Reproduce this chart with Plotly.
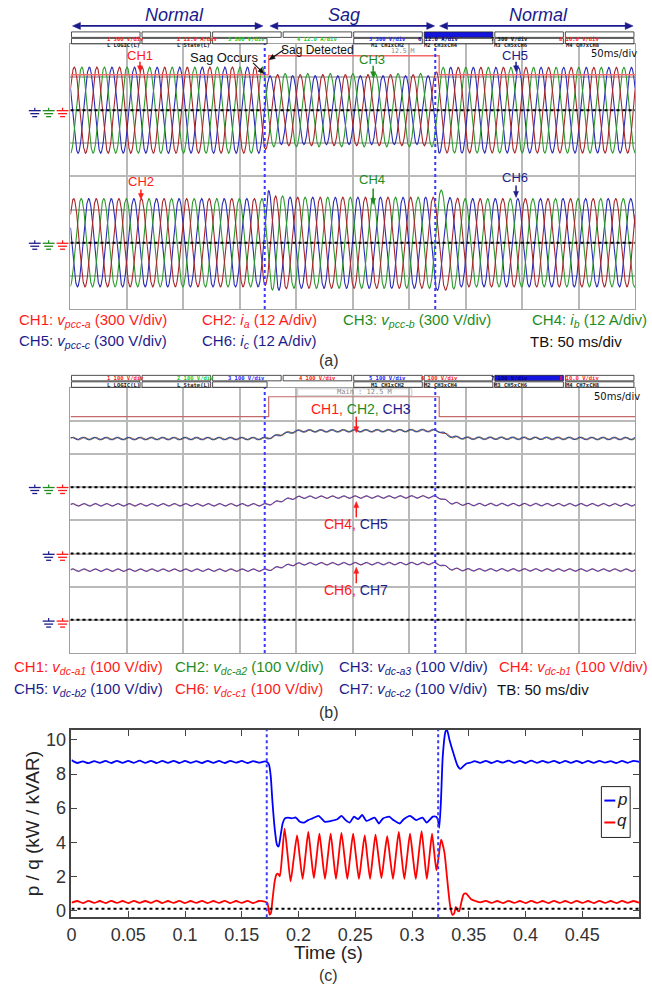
import numpy as np
import plotly.graph_objects as go

W, H = 652, 988
FONT = "Liberation Sans, Arial, sans-serif"
MONO = "DejaVu Sans Mono, monospace"

# ----------------------------- data -----------------------------
FREQ_HZ = 50.0          # grid frequency
SAG_START, SAG_END = 0.172, 0.323   # s
TIME_SPAN = 0.5         # 10 div x 50 ms

# (a) PCC voltages: peak envelope (V), 300 V/div
VPCC_T = [0.0, 0.1715, 0.1745, 0.3225, 0.3255, 0.5]
VPCC_A_PK = [390, 390, 322, 322, 388, 388]
VPCC_B_PK = [390, 390, 332, 332, 388, 388]
VPCC_C_PK = [390, 390, 312, 312, 388, 388]
VPCC_PHASE_DEG = [30, -90, 150]
V_PER_DIV_A = 300

# (a) load currents: peak envelope (A), 12 A/div
I_T = [0.0, 0.1715, 0.1735, 0.180, 0.195, 0.3225, 0.3255, 0.333, 0.345, 0.5]
IA_PK = [16.0, 16.0, 15.0, 17.0, 16.5, 16.5, 18.5, 17.0, 16.0, 16.0]
IB_PK = [16.0, 16.0, 15.5, 17.5, 16.5, 16.5, 20.0, 17.5, 16.0, 16.0]
IC_PK = [16.0, 16.0, 19.5, 17.5, 16.5, 16.5, 17.5, 16.5, 16.0, 16.0]
I_PHASE_DEG = [40, -80, 160]
I_SHIFT_T = [0.0, 0.172, 0.186, 0.323, 0.336, 0.5]
I_SHIFT_DEG = [0, 0, 30, 30, 0, 0]
A_PER_DIV = 12

# scope ground levels (div)
GROUND_A = [2, -2]
GROUND_B = [1, -1, -3]

# sag-detect logic trace (div)
LOGIC_T = [0.0, 0.1755, 0.3265, 0.5]
LOGIC_A = [3.07, 3.64, 3.07, 3.07]
LOGIC_B = [3.13, 3.73, 3.13, 3.13]

# (b) dc-link voltages (V), 100 V/div
VDC_T = [0.0, 0.172, 0.178, 0.186, 0.195, 0.203, 0.323, 0.327, 0.332, 0.338, 0.35, 0.5]
VDC_GROUP1 = [147, 147, 151, 159, 166, 170, 171, 169, 160, 152, 148, 147]
VDC_GROUP2 = [147, 147, 151, 159, 166, 170, 171, 169, 160, 152, 148, 147]
VDC_GROUP3 = [150, 150, 153, 160, 166, 169, 170, 168, 160, 153, 151, 150]
RIPPLE_V = 4.0
RIPPLE_HZ = 100.0
V_PER_DIV_B = 100

# (c) p and q (kW / kVAR)
P_T = [0.000, 0.005, 0.010, 0.015, 0.020, 0.025, 0.030, 0.035, 0.040, 0.045,
       0.050, 0.055, 0.060, 0.065, 0.070, 0.075, 0.080, 0.085, 0.090, 0.095,
       0.100, 0.105, 0.110, 0.115, 0.120, 0.125, 0.130, 0.135, 0.140, 0.145,
       0.150, 0.155, 0.160, 0.165, 0.170,
       0.1725, 0.1740, 0.1755, 0.1770, 0.1790, 0.1810, 0.1825, 0.1840, 0.1860, 0.1880, 0.1905,
       0.1939, 0.1976, 0.2012, 0.2049, 0.2085, 0.2122, 0.2177, 0.2232, 0.2287, 0.2342, 0.2378,
       0.2415, 0.2451, 0.2488, 0.2525, 0.2561, 0.2598, 0.2634, 0.2671, 0.2708, 0.2744, 0.2799,
       0.2836, 0.2891, 0.2927, 0.2982, 0.3037, 0.3092, 0.3128, 0.3183, 0.3213,
       0.3228, 0.3240, 0.3255, 0.3270, 0.3295, 0.3308, 0.3330, 0.3370, 0.3400, 0.3425,
       0.3450, 0.3480, 0.3520,
       0.355, 0.360, 0.365, 0.370, 0.375, 0.380, 0.385, 0.390, 0.395, 0.400,
       0.405, 0.410, 0.415, 0.420, 0.425, 0.430, 0.435, 0.440, 0.445, 0.450,
       0.455, 0.460, 0.465, 0.470, 0.475, 0.480, 0.485, 0.490, 0.495, 0.500]
P_VAL = [8.82, 8.65, 8.74, 8.64, 8.76, 8.66, 8.77, 8.65, 8.78, 8.66,
         8.77, 8.66, 8.79, 8.66, 8.78, 8.65, 8.77, 8.66, 8.78, 8.65,
         8.77, 8.66, 8.76, 8.65, 8.78, 8.66, 8.77, 8.65, 8.78, 8.67,
         8.77, 8.65, 8.76, 8.67, 8.74,
         8.70, 8.55, 7.90, 6.40, 4.80, 3.85, 3.75, 4.30, 5.10, 5.40, 5.45,
         5.40, 5.45, 5.20, 5.15, 5.30, 5.40, 5.55, 5.20, 5.25, 5.35, 5.55,
         5.30, 5.15, 5.50, 5.35, 5.60, 5.25, 5.35, 5.45, 5.10, 5.40, 5.50,
         5.30, 5.10, 5.35, 5.55, 5.30, 5.45, 5.15, 5.50, 5.50,
         5.30, 4.85, 6.50, 9.00, 10.50, 10.60, 10.00, 9.10, 8.50, 8.30,
         8.45, 8.62, 8.68,
         8.76, 8.66, 8.78, 8.65, 8.77, 8.67, 8.79, 8.66, 8.78, 8.65,
         8.79, 8.66, 8.77, 8.67, 8.78, 8.65, 8.77, 8.66, 8.78, 8.65,
         8.77, 8.66, 8.78, 8.67, 8.76, 8.65, 8.77, 8.66, 8.78, 8.72]

Q_T = [0.000, 0.005, 0.010, 0.015, 0.020, 0.025, 0.030, 0.035, 0.040, 0.045,
       0.050, 0.055, 0.060, 0.065, 0.070, 0.075, 0.080, 0.085, 0.090, 0.095,
       0.100, 0.105, 0.110, 0.115, 0.120, 0.125, 0.130, 0.135, 0.140, 0.145,
       0.150, 0.155, 0.160, 0.165, 0.170,
       0.1725, 0.1735, 0.1745, 0.1757, 0.1770, 0.1790, 0.1805, 0.1820, 0.1835, 0.1855,
       0.1877, 0.1904, 0.1930, 0.1958, 0.1987, 0.2011, 0.2036, 0.2061, 0.2086, 0.2110,
       0.2135, 0.2160, 0.2184, 0.2208, 0.2233, 0.2258, 0.2283, 0.2306, 0.2330, 0.2354,
       0.2378, 0.2404, 0.2430, 0.2455, 0.2481, 0.2506, 0.2532, 0.2557, 0.2583, 0.2606,
       0.2630, 0.2654, 0.2678, 0.2704, 0.2730, 0.2755, 0.2781, 0.2806, 0.2832, 0.2857,
       0.2883, 0.2907, 0.2932, 0.2957, 0.2982, 0.3007, 0.3033, 0.3058, 0.3084, 0.3107,
       0.3130, 0.3153, 0.3176, 0.3195, 0.3215, 0.3236, 0.3256,
       0.3285, 0.3310, 0.3335, 0.3355, 0.3370, 0.3385, 0.3400, 0.3415, 0.3435, 0.3455,
       0.3475, 0.3495, 0.3520, 0.3560,
       0.360, 0.365, 0.370, 0.375, 0.380, 0.385, 0.390, 0.395, 0.400,
       0.405, 0.410, 0.415, 0.420, 0.425, 0.430, 0.435, 0.440, 0.445, 0.450,
       0.455, 0.460, 0.465, 0.470, 0.475, 0.480, 0.485, 0.490, 0.495, 0.500]
Q_VAL = [0.45, 0.55, 0.43, 0.56, 0.44, 0.55, 0.43, 0.56, 0.44, 0.55,
         0.43, 0.56, 0.44, 0.55, 0.44, 0.57, 0.43, 0.55, 0.44, 0.56,
         0.43, 0.55, 0.44, 0.56, 0.43, 0.55, 0.44, 0.56, 0.43, 0.55,
         0.44, 0.56, 0.43, 0.55, 0.52,
         0.45, 0.15, -0.25, -0.15, 0.60, 1.70, 2.10, 2.15, 2.00, 3.20,
         4.80, 3.25, 1.70, 3.05, 4.40, 3.12, 1.85, 3.22, 4.60, 3.25,
         1.90, 3.20, 4.50, 3.17, 1.85, 3.17, 4.50, 3.17, 1.85, 3.20,
         4.55, 3.20, 1.85, 3.17, 4.50, 3.17, 1.85, 3.12, 4.40, 3.12,
         1.85, 3.15, 4.45, 3.17, 1.90, 3.12, 4.35, 3.10, 1.85, 3.22,
         4.60, 3.22, 1.85, 3.17, 4.50, 3.17, 1.85, 3.25, 4.65, 3.25,
         1.85, 3.17, 4.50, 3.40, 2.35, 3.25, 4.15,
         3.40, 1.80, 0.30, -0.25, -0.20, 0.20, 0.00, -0.05, 0.50, 0.95,
         1.00, 0.85, 0.65, 0.55,
         0.47, 0.56, 0.44, 0.55, 0.43, 0.56, 0.44, 0.55, 0.43,
         0.56, 0.44, 0.55, 0.43, 0.56, 0.44, 0.55, 0.43, 0.56, 0.44,
         0.55, 0.43, 0.56, 0.44, 0.55, 0.43, 0.56, 0.44, 0.55, 0.45]
ZERO_REF = 0.1
X_TICKS_C = [0, 0.05, 0.1, 0.15, 0.2, 0.25, 0.3, 0.35, 0.4, 0.45]
Y_TICKS_C = [0, 2, 4, 6, 8, 10]

# ----------------------------- style -----------------------------
RED, GREEN, NAVY = "#ff1a1a", "#1e8c1e", "#1c1c8a"
WRED, WGREEN, WBLUE = "#a8262a", "#2c9a2c", "#2a2ab4"
GRID = "#b9b9b9"
HDR = "#1a1a8c"

def X(x): return x / W
def Y(y): return 1 - y / H

fig = go.Figure()
t = np.linspace(0, TIME_SPAN, 5001)
env = lambda tk, vk: np.interp(t, tk, vk)

# ---- (a) voltages and currents
for pk, ph, col in zip([VPCC_C_PK, VPCC_B_PK, VPCC_A_PK], VPCC_PHASE_DEG[::-1], [WBLUE, WGREEN, WRED]):
    y = GROUND_A[0] + env(VPCC_T, pk) * np.sin(2 * np.pi * FREQ_HZ * t + np.deg2rad(ph)) / V_PER_DIV_A
    fig.add_trace(go.Scatter(x=t, y=y, mode="lines", line=dict(color=col, width=1.1),
                             xaxis="x", yaxis="y", hoverinfo="skip", showlegend=False))
shift = np.deg2rad(env(I_SHIFT_T, I_SHIFT_DEG))
for pk, ph, col in zip([IC_PK, IB_PK, IA_PK], I_PHASE_DEG[::-1], [WBLUE, WGREEN, WRED]):
    y = GROUND_A[1] + env(I_T, pk) * np.sin(2 * np.pi * FREQ_HZ * t + np.deg2rad(ph) + shift) / A_PER_DIV
    fig.add_trace(go.Scatter(x=t, y=y, mode="lines", line=dict(color=col, width=1.1),
                             xaxis="x", yaxis="y", hoverinfo="skip", showlegend=False))
fig.add_trace(go.Scatter(x=LOGIC_T, y=LOGIC_A, mode="lines", line=dict(color="#f26a6a", width=1.4, shape="hv"),
                         xaxis="x", yaxis="y", hoverinfo="skip", showlegend=False))

# ---- (b) dc-link voltages
groups = [(GROUND_B[0], VDC_GROUP1, [WRED, WGREEN, WBLUE]),
          (GROUND_B[1], VDC_GROUP2, [WRED, WBLUE]),
          (GROUND_B[2], VDC_GROUP3, [WRED, WBLUE])]
for g, lev, cols in groups:
    for k, col in enumerate(cols):
        v = env(VDC_T, lev) + RIPPLE_V * np.sin(2 * np.pi * RIPPLE_HZ * t + k * 0.6)
        fig.add_trace(go.Scatter(x=t, y=g + v / V_PER_DIV_B, mode="lines", line=dict(color=col, width=1.0),
                                 opacity=0.8, xaxis="x2", yaxis="y2", hoverinfo="skip", showlegend=False))
fig.add_trace(go.Scatter(x=LOGIC_T, y=LOGIC_B, mode="lines", line=dict(color="#c46a6a", width=1.2, shape="hv"),
                         xaxis="x2", yaxis="y2", hoverinfo="skip", showlegend=False))

# ---- (c) p / q
fig.add_trace(go.Scatter(x=P_T, y=P_VAL, mode="lines", line=dict(color="#0000ff", width=1.8, shape="spline", smoothing=0.5),
                         xaxis="x3", yaxis="y3", hoverinfo="skip", showlegend=False))
fig.add_trace(go.Scatter(x=Q_T, y=Q_VAL, mode="lines", line=dict(color="#ff0000", width=1.8, shape="spline", smoothing=0.6),
                         xaxis="x3", yaxis="y3", hoverinfo="skip", showlegend=False))

shapes = []
# ground / reference dotted lines
for g in GROUND_A:
    shapes.append(dict(type="line", xref="x", yref="y", x0=0, x1=TIME_SPAN, y0=g, y1=g,
                       line=dict(color="black", width=2, dash="dot")))
for g in GROUND_B:
    shapes.append(dict(type="line", xref="x2", yref="y2", x0=0, x1=TIME_SPAN, y0=g, y1=g,
                       line=dict(color="black", width=2, dash="dot")))
shapes.append(dict(type="line", xref="x3", yref="y3", x0=0, x1=TIME_SPAN, y0=ZERO_REF, y1=ZERO_REF,
                   line=dict(color="black", width=2, dash="dot")))
# sag instants
for ax, yr in [("x", "y domain"), ("x2", "y2 domain"), ("x3", "y3 domain")]:
    for ts in (SAG_START, SAG_END):
        shapes.append(dict(type="line", xref=ax, yref=yr, x0=ts, x1=ts, y0=0, y1=1,
                           line=dict(color="#3a3aff", width=2, dash="dot")))

# ground symbols
def ground(cx, y0, col):
    shapes.append(dict(type="line", xref="paper", yref="paper", x0=X(cx), x1=X(cx), y0=Y(y0 - 3), y1=Y(y0),
                       line=dict(color=col, width=1.2)))
    for dy, w in [(0, 12), (3, 9), (6, 5)]:
        shapes.append(dict(type="line", xref="paper", yref="paper", x0=X(cx - w / 2), x1=X(cx + w / 2),
                           y0=Y(y0 + dy), y1=Y(y0 + dy), line=dict(color=col, width=1.3)))
for yy in (111, 244):
    for cx, col in [(30, NAVY), (44, GREEN), (58, RED)]:
        ground(cx, yy, col)
for cx, col in [(30, NAVY), (44, GREEN), (58, RED)]:
    ground(cx, 489, col)
for yy in (556, 623):
    for cx, col in [(44, NAVY), (58, RED)]:
        ground(cx, yy, col)

# arrows drawn as shapes
def arrow(x0, y0, x1, y1, color, width=1.5, hl=7.0, hw=6.0, both=False):
    dx, dy = x1 - x0, y1 - y0
    L = (dx * dx + dy * dy) ** 0.5
    ux, uy = dx / L, dy / L
    sx0, sy0 = (x0 + ux * hl, y0 + uy * hl) if both else (x0, y0)
    sx1, sy1 = x1 - ux * hl * 0.8, y1 - uy * hl * 0.8
    shapes.append(dict(type="line", xref="paper", yref="paper", x0=X(sx0), y0=Y(sy0), x1=X(sx1), y1=Y(sy1),
                       line=dict(color=color, width=width)))
    tips = [(x1, y1, ux, uy)] + ([(x0, y0, -ux, -uy)] if both else [])
    for tx, ty, vx, vy in tips:
        bx, by = tx - vx * hl, ty - vy * hl
        px_, py_ = -vy, vx
        p = [(tx, ty), (bx + px_ * hw / 2, by + py_ * hw / 2), (bx - px_ * hw / 2, by - py_ * hw / 2)]
        path = "M {} {} L {} {} L {} {} Z".format(*[c for q in p for c in (X(q[0]), Y(q[1]))])
        shapes.append(dict(type="path", xref="paper", yref="paper", path=path, fillcolor=color,
                           line=dict(color=color, width=0.5)))

# channel header boxes
def hbox(x0, x1, y0, y1, text, col, fill=None):
    shapes.append(dict(type="rect", xref="paper", yref="paper", x0=X(x0), x1=X(x1), y0=Y(y1), y1=Y(y0),
                       line=dict(color="#222", width=0.8), fillcolor=fill or "rgba(0,0,0,0)"))
    if text:
        fig.add_annotation(text="<b>" + text + "</b>", x=X((x0 + x1) / 2), y=Y((y0 + y1) / 2), xref="paper", yref="paper",
                           showarrow=False, font=dict(size=5.5, color=col, family=MONO), borderpad=0)

BW = 71.1
def header_rows(ytop, row1):
    for i, (txt, col, fill) in enumerate(row1):
        hbox(67 + i * BW, 67 + (i + 1) * BW - 2, ytop, ytop + 5.5, txt, col, fill)
    row2 = [(0, 1, "L LOGIC(L)"), (1, 2, "L State(L)"), (2, 2.8, ""), (4, 5, "M1 CH1xCH2"),
            (5, 6, "M2 CH3xCH4"), (6, 7, "M3 CH5xCH6"), (7, 8, "M4 CH7xCH8")]
    for a, b, txt in row2:
        hbox(67 + a * BW, 67 + b * BW - 2, ytop + 6.5, ytop + 12, txt, "#222")

header_rows(32, [("1 300 V/div", RED, None), ("2 12.0 A/div", RED, None), ("3 300 V/div", "#22cc22", None),
                 ("4 12.0 A/div", "#22cc22", None), ("5 300 V/div", "#2222ff", None), ("6 12.0 A/div", "#000080", "#1515e0"),
                 ("7 300 V/div", "#111", None), ("8 10.0 V/div", RED, None)])
header_rows(376.5, [("1 100 V/div", RED, None), ("2 100 V/div", "#22cc22", None), ("3 100 V/div", "#2222ff", None),
                    ("4 100 V/div", RED, None), ("5 100 V/div", "#2222ff", None), ("6 100 V/div", RED, None),
                    ("7 100 V/div", "#000080", "#1515e0"), ("8 10.0 V/div", RED, None)])
shapes.append(dict(type="rect", xref="paper", yref="paper", x0=X(295), x1=X(410), y0=Y(397), y1=Y(390),
                   line=dict(color="#bbbbbb", width=0.8)))

# legend box for (c)
shapes.append(dict(type="rect", xref="paper", yref="paper", x0=X(601), x1=X(630), y0=Y(840), y1=Y(789),
                   line=dict(color="#222", width=1), fillcolor="white"))
shapes.append(dict(type="line", xref="paper", yref="paper", x0=X(604), x1=X(615), y0=Y(803), y1=Y(803),
                   line=dict(color="#0000ff", width=2)))
shapes.append(dict(type="line", xref="paper", yref="paper", x0=X(604), x1=X(615), y0=Y(825), y1=Y(825),
                   line=dict(color="#ff0000", width=2)))

# header arrows
arrow(68, 26, 260, 26, HDR, 1.6, 8, 7, both=True)
arrow(267, 26, 433, 26, HDR, 1.6, 8, 7, both=True)
arrow(438, 26, 633, 26, HDR, 1.6, 8, 7, both=True)
# scope (a) pointers
arrow(250, 63, 261, 74, "#111", 1.2, 6, 5)
arrow(281, 50, 266, 60, "#111", 1.2, 6, 5)
for x, y0, y1, col in [(136, 62, 72, RED), (137, 190, 200, RED), (371, 66, 78, GREEN),
                       (371, 189, 205, GREEN), (515, 62, 72, NAVY), (515, 186, 198, NAVY)]:
    arrow(x, y0, x, y1, col, 1.5, 6, 5)
# scope (b) pointers
arrow(354, 418, 354, 434, RED, 1.5, 6, 5)
arrow(354, 519, 354, 503, RED, 1.5, 6, 5)
arrow(354, 585, 354, 569, RED, 1.5, 6, 5)

fig.update_layout(shapes=shapes)

# ----------------------------- annotations -----------------------------
def A(text, x, y, size=12, color="black", xanchor="center", yanchor="middle", family=FONT, **kw):
    fig.add_annotation(text=text, x=X(x), y=Y(y), xref="paper", yref="paper", showarrow=False,
                       font=dict(size=size, color=color, family=family), xanchor=xanchor, yanchor=yanchor, **kw)

# headers
A("<i>Normal</i>", 171, 15, 18, HDR)
A("<i>Sag</i>", 342, 15, 18, HDR)
A("<i>Normal</i>", 538, 15, 18, HDR)

# scope (a) labels
A("50ms/div", 614, 54, 10, "#111", family="DejaVu Sans")
A("12.5 M", 401, 51, 6.5, "#888", family=MONO, borderpad=0)
A("Sag Occurs", 221, 58, 13, "#111")
A("Sag Detected", 315, 50, 12, "#111")
A("CH1", 136, 56, 13, RED)
A("CH2", 137, 182, 13, RED)
A("CH3", 370, 60, 13, GREEN)
A("CH4", 370, 180, 13, GREEN)
A("CH5", 514, 56, 13, NAVY)
A("CH6", 514, 178, 13, NAVY)

# legend text (a)
for txt, col, x, y in [
    ("CH1: <i>v<sub>pcc-a</sub></i> (300 V/div)", RED, 12, 321),
    ("CH2: <i>i<sub>a</sub></i> (12 A/div)", RED, 197, 321),
    ("CH3: <i>v<sub>pcc-b</sub></i> (300 V/div)", GREEN, 339, 321),
    ("CH4: <i>i<sub>b</sub></i> (12 A/div)", GREEN, 529, 321),
    ("CH5: <i>v<sub>pcc-c</sub></i> (300 V/div)", NAVY, 12, 343),
    ("CH6: <i>i<sub>c</sub></i> (12 A/div)", NAVY, 197, 343),
    ("TB: 50 ms/div", "#111", 527, 343)]:
    A(txt, x, y, 15, col, xanchor="left")
A("(a)", 326, 362, 16, "#333")

# scope (b) labels
A("50ms/div", 617, 398, 10, "#111", family="DejaVu Sans")
A("Main : 12.5 M", 362, 393.5, 7, "#888", family=MONO)
A(f"<span style='color:{RED}'>CH1,</span> <span style='color:{GREEN}'>CH2,</span> <span style='color:{NAVY}'>CH3</span>",
  359, 410, 14)
A(f"<span style='color:{RED}'>CH4,</span> <span style='color:{NAVY}'>CH5</span>", 354, 526, 14)
A(f"<span style='color:{RED}'>CH6,</span> <span style='color:{NAVY}'>CH7</span>", 354, 592, 14)

for txt, col, x, y in [
    ("CH1: <i>v<sub>dc-a1</sub></i> (100 V/div)", RED, 7, 670),
    ("CH2: <i>v<sub>dc-a2</sub></i> (100 V/div)", GREEN, 169, 670),
    ("CH3: <i>v<sub>dc-a3</sub></i> (100 V/div)", NAVY, 335, 670),
    ("CH4: <i>v<sub>dc-b1</sub></i> (100 V/div)", RED, 496, 670),
    ("CH5: <i>v<sub>dc-b2</sub></i> (100 V/div)", NAVY, 7, 692),
    ("CH6: <i>v<sub>dc-c1</sub></i> (100 V/div)", RED, 169, 692),
    ("CH7: <i>v<sub>dc-c2</sub></i> (100 V/div)", NAVY, 335, 692),
    ("TB: 50 ms/div", "#111", 494, 692)]:
    A(txt, x, y, 15, col, xanchor="left")
A("(b)", 326, 715, 16, "#333")

# (c) labels
A("p / q (kW / kVAR)", 28, 826, 19, "#222", textangle=-90)
A("Time (s)", 326, 955, 19, "#222")
A("(c)", 326, 978, 16, "#333")
A("<i>p</i>", 622, 802, 17, "#222")
A("<i>q</i>", 622, 823, 17, "#222")

# ----------------------------- axes -----------------------------
scope_x = dict(range=[0, TIME_SPAN], dtick=0.05, tick0=0, showgrid=True, gridcolor=GRID, gridwidth=1.5,
               showticklabels=False, ticks="", zeroline=False, showline=True, mirror=True,
               linecolor="#a0a0a0", linewidth=1.2, fixedrange=True)
scope_y = dict(range=[-4, 4], dtick=1, tick0=0, showgrid=True, gridcolor=GRID, gridwidth=1.5,
               showticklabels=False, ticks="", zeroline=False, showline=True, mirror=True,
               linecolor="#a0a0a0", linewidth=1.2, fixedrange=True)

fig.update_layout(
    width=W, height=H, margin=dict(l=0, r=0, t=0, b=0),
    paper_bgcolor="white", plot_bgcolor="white", showlegend=False,
    font=dict(family=FONT),
    xaxis=dict(domain=[X(66), X(635)], anchor="y", **scope_x),
    yaxis=dict(domain=[Y(310), Y(44)], anchor="x", **scope_y),
    xaxis2=dict(domain=[X(66), X(635)], anchor="y2", **scope_x),
    yaxis2=dict(domain=[Y(655), Y(389)], anchor="x2", **scope_y),
    xaxis3=dict(domain=[X(67), X(639)], anchor="y3", range=[0, TIME_SPAN], tickvals=X_TICKS_C,
                ticktext=[("%g" % v) for v in X_TICKS_C], ticks="inside", ticklen=6, tickwidth=1.2,
                tickcolor="#444", showline=True, mirror="ticks", linecolor="#444", linewidth=1.5,
                showgrid=False, zeroline=False, tickfont=dict(size=18, color="#333"), fixedrange=True),
    yaxis3=dict(domain=[Y(920), Y(732)], anchor="x3", range=[-0.4, 10.6], tickvals=Y_TICKS_C,
                ticks="inside", ticklen=6, tickwidth=1.2, tickcolor="#444", showline=True, mirror="ticks",
                linecolor="#444", linewidth=1.5, showgrid=False, zeroline=False,
                tickfont=dict(size=18, color="#333"), fixedrange=True),
)

fig.write_html("out.html")
